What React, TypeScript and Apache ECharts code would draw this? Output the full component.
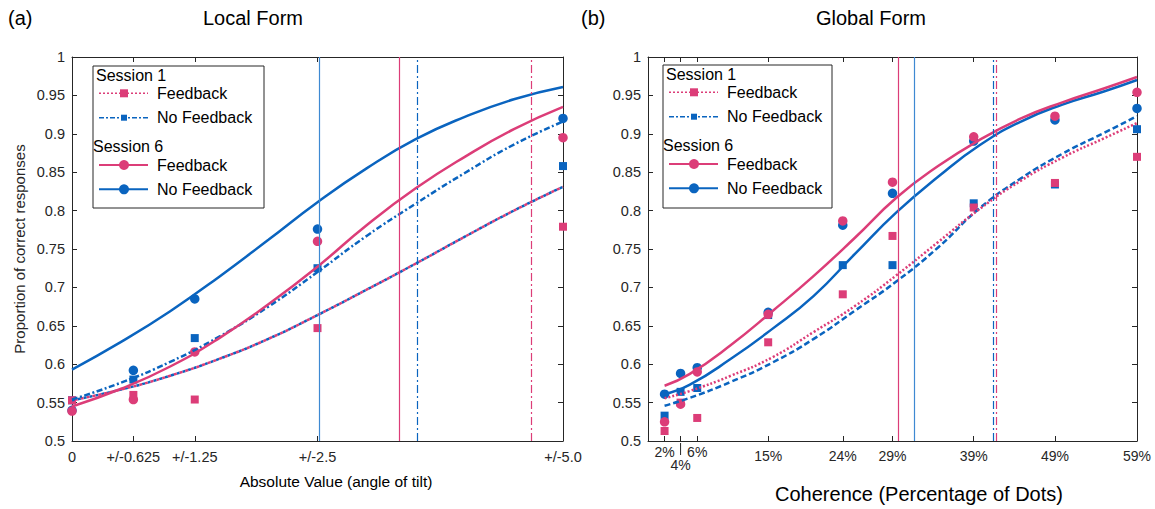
import React, { useEffect, useRef } from 'react';
import * as echarts from 'echarts';

// ---------- Data ----------
// Panel (a) Local Form
const localX = [0, 0.625, 1.25, 2.5, 5];
const localXLabels = ['0', '+/-0.625', '+/-1.25', '+/-2.5', '+/-5.0'];
const localS1F = [0.553, 0.56, 0.554, 0.647, 0.779];
const localS1NF = [0.553, 0.58, 0.634, 0.725, 0.858];
const localS6F = [0.539, 0.554, 0.616, 0.76, 0.895];
const localS6NF = [0.54, 0.592, 0.685, 0.776, 0.92];

const localFitX = [0, 0.5, 1, 1.5, 2, 2.5, 3, 3.5, 4, 4.5, 5];
const localFitS6NF = [0.593, 0.629, 0.669, 0.714, 0.762, 0.811, 0.855, 0.893, 0.922, 0.945, 0.961];
const localFitS6F = [0.545, 0.568, 0.597, 0.634, 0.678, 0.727, 0.781, 0.829, 0.87, 0.906, 0.935];
const localFitS1NF = [0.554, 0.576, 0.603, 0.636, 0.675, 0.72, 0.767, 0.809, 0.849, 0.886, 0.916];
const localFitS1F = [0.553, 0.567, 0.585, 0.607, 0.633, 0.664, 0.697, 0.731, 0.766, 0.8, 0.831];

const localThrS6NF = 2.515;
const localThrS6F = 3.33;
const localThrS1NF = 3.52;
const localThrS1F = 4.68;

// Panel (b) Global Form
const globalX = [2, 3.93, 5.94, 14.5, 23.5, 29.5, 39.3, 49.1, 59];
const globalXLabels = ['2%', '4%', '6%', '15%', '24%', '29%', '39%', '49%', '59%'];
const globalS1F = [0.513, 0.55, 0.53, 0.6285, 0.691, 0.767, 0.804, 0.836, 0.87];
const globalS1NF = [0.533, 0.564, 0.569, 0.664, 0.729, 0.729, 0.8095, 0.834, 0.906];
const globalS6F = [0.525, 0.548, 0.59, 0.665, 0.7865, 0.837, 0.896, 0.923, 0.954];
const globalS6NF = [0.561, 0.588, 0.5955, 0.6676, 0.781, 0.8225, 0.8906, 0.918, 0.933];

const globalFitX = [2, 5, 10, 15, 20, 25, 30, 35, 40, 45, 50, 55, 59];
const globalFitS6F = [0.572, 0.587, 0.625, 0.669, 0.715, 0.765, 0.817, 0.858, 0.892, 0.92, 0.941, 0.959, 0.974];
const globalFitS6NF = [0.561, 0.573, 0.607, 0.646, 0.689, 0.744, 0.798, 0.844, 0.885, 0.916, 0.938, 0.955, 0.97];
const globalFitS1F = [0.5556, 0.565, 0.585, 0.609, 0.642, 0.676, 0.716, 0.759, 0.802, 0.839, 0.869, 0.894, 0.914];
const globalFitS1NF = [0.546, 0.556, 0.577, 0.602, 0.633, 0.67, 0.708, 0.752, 0.803, 0.842, 0.874, 0.901, 0.923];

const globalThrS6F = 30.2;
const globalThrS6NF = 32.1;
const globalThrS1NF = 41.7;
const globalThrS1F = 42.0;

// ---------- Layout / styles ----------
const PINK = '#DC3D78';
const BLUE = '#0A64BF';
const LIGHT_BLUE = '#3E89D2';
const AXIS = '#262626';
const FONT = "'Liberation Sans', Arial, Helvetica, sans-serif";
const DASHDOT = [6, 2.5, 2, 2.5];
const VDASHDOT = [8, 3, 2, 3];

const GRID_A = { left: 72, top: 57, width: 491, height: 384 };
const GRID_B = { left: 648, top: 57, width: 489, height: 384 };
const X_A = [0, 5];
const X_B = [0, 59];

const zip = (xs: number[], ys: number[]) => xs.map((x, i) => [x, ys[i]]);

function xAxisDef(grid: number, pos: 'bottom' | 'top', min: number, max: number, ticks: number[], labelVals: number[] | null, labelOpts: any = {}) {
  return {
    type: 'value',
    gridIndex: grid,
    position: pos,
    min,
    max,
    axisLine: { show: true, onZero: false, lineStyle: { color: AXIS, width: 1 } },
    axisTick: { show: true, inside: true, length: 5, customValues: ticks, lineStyle: { color: AXIS, width: 1 } },
    axisLabel: labelVals
      ? {
          show: true,
          customValues: labelVals,
          hideOverlap: false,
          color: AXIS,
          fontFamily: FONT,
          ...labelOpts,
        }
      : { show: false },
    splitLine: { show: false },
  };
}

function yAxisDef(grid: number, pos: 'left' | 'right', showLabel: boolean, name?: string) {
  return {
    type: 'value',
    gridIndex: grid,
    position: pos,
    min: 0.5,
    max: 1,
    interval: 0.05,
    name: name || '',
    nameLocation: 'middle',
    nameGap: 45,
    nameTextStyle: { fontFamily: FONT, fontSize: 15, color: AXIS },
    axisLine: { show: true, onZero: false, lineStyle: { color: AXIS, width: 1 } },
    axisTick: { show: true, inside: true, length: 5, lineStyle: { color: AXIS, width: 1 } },
    axisLabel: showLabel ? { show: true, color: AXIS, fontFamily: FONT, fontSize: 14.5, margin: 7 } : { show: false },
    splitLine: { show: false },
  };
}

function fitLine(xi: number, yi: number, xs: number[], ys: number[], color: string, type: any, dashOffset = 0) {
  return {
    type: 'line',
    xAxisIndex: xi,
    yAxisIndex: yi,
    data: zip(xs, ys),
    smooth: 0.5,
    showSymbol: false,
    silent: true,
    z: 3,
    lineStyle: { color, width: 2.5, type, dashOffset, cap: 'butt' },
  };
}

function dots(xi: number, yi: number, xs: number[], ys: number[], color: string, symbol: string, size: number) {
  return {
    type: 'scatter',
    xAxisIndex: xi,
    yAxisIndex: yi,
    data: zip(xs, ys),
    symbol,
    symbolSize: size,
    z: 2,
    itemStyle: { color, opacity: 1 },
  };
}

function vLines(xi: number, yi: number, items: { x: number; color: string; type: any }[]) {
  return {
    type: 'line',
    xAxisIndex: xi,
    yAxisIndex: yi,
    data: [],
    z: 4,
    markLine: {
      silent: true,
      symbol: 'none',
      label: { show: false },
      animation: false,
      data: items.map((it) => ({ xAxis: it.x, lineStyle: { color: it.color, width: 1.2, type: it.type } })),
    },
  };
}

function legendGroup(bx: number, by: number, w: number, h: number) {
  const txt = (text: string, x: number, y: number) => ({
    type: 'text',
    x: bx + x,
    y: by + y,
    style: { text, fill: '#000', font: `16px ${FONT}`, verticalAlign: 'middle', textAlign: 'left' },
  });
  const sample = (y: number, color: string, dash: any, marker: 'rect' | 'circle', lw: number) => {
    const cy = by + y;
    const items: any[] = [
      {
        type: 'line',
        shape: { x1: bx + 6, y1: cy, x2: bx + 55, y2: cy },
        style: { stroke: color, lineWidth: lw, lineDash: dash },
      },
    ];
    if (marker === 'rect') {
      const s = color === PINK ? 8 : 6;
      items.push({ type: 'rect', shape: { x: bx + 31 - s / 2, y: cy - s / 2, width: s, height: s }, style: { fill: color } });
    } else {
      items.push({ type: 'circle', shape: { cx: bx + 31, cy, r: 5 }, style: { fill: color } });
    }
    return items;
  };
  return {
    type: 'group',
    z: 100,
    children: [
      { type: 'rect', shape: { x: bx, y: by, width: w, height: h }, style: { fill: '#fff', stroke: AXIS, lineWidth: 1 } },
      txt('Session 1', 3, 9.5),
      ...sample(27.3, PINK, [2, 2], 'rect', 1.5),
      txt('Feedback', 64, 27.3),
      ...sample(51.7, BLUE, [5, 2, 2, 2], 'rect', 1.5),
      txt('No Feedback', 64, 51.7),
      txt('Session 6', 0, 80),
      ...sample(99, PINK, null, 'circle', 2),
      txt('Feedback', 64, 99),
      ...sample(123.3, BLUE, null, 'circle', 2),
      txt('No Feedback', 64, 123.3),
    ],
  };
}

function text(t: string, x: number, y: number, size: number, align = 'center', color = '#000') {
  return {
    type: 'text',
    x,
    y,
    style: { text: t, fill: color, font: `${size}px ${FONT}`, textAlign: align, verticalAlign: 'middle' },
  };
}

const localLabelOf = (v: number) => {
  const i = localX.findIndex((x) => Math.abs(x - v) < 1e-9);
  return i >= 0 ? localXLabels[i] : '';
};
const globalLabelOf = (v: number) => {
  const i = globalX.findIndex((x) => Math.abs(x - v) < 1e-9);
  if (i < 0) return '';
  const l = globalXLabels[i];
  if (l === '2%' || l === '6%') return `{a|${l}}`;
  return `{b|${l}}`;
};

// The "4%" label sits on a second row, connected to its tick by a short bar.
const idx4 = globalXLabels.indexOf('4%');
const px4 = GRID_B.left + ((globalX[idx4] - X_B[0]) / (X_B[1] - X_B[0])) * GRID_B.width;
const axisBottomB = GRID_B.top + GRID_B.height;
const globalLabelVals = globalX.filter((_, i) => i !== idx4);

const option: any = {
  animation: false,
  backgroundColor: '#fff',
  grid: [GRID_A, GRID_B],
  xAxis: [
    xAxisDef(0, 'bottom', X_A[0], X_A[1], localX, localX, { fontSize: 14.5, margin: 8, formatter: localLabelOf }),
    xAxisDef(0, 'top', X_A[0], X_A[1], localX, null),
    xAxisDef(1, 'bottom', X_B[0], X_B[1], globalX, globalLabelVals, {
      fontSize: 14,
      margin: 4,
      formatter: globalLabelOf,
      rich: {
        a: { fontSize: 14, lineHeight: 14, fontFamily: FONT, color: AXIS },
        b: { fontSize: 14, lineHeight: 14, fontFamily: FONT, color: AXIS, padding: [7, 0, 0, 0] },
      },
    }),
    xAxisDef(1, 'top', X_B[0], X_B[1], globalX, null),
  ],
  yAxis: [
    yAxisDef(0, 'left', true, 'Proportion of correct responses'),
    yAxisDef(0, 'right', false),
    yAxisDef(1, 'left', true),
    yAxisDef(1, 'right', false),
  ],
  series: [
    // Panel (a)
    dots(0, 0, localX, localS1NF, BLUE, 'rect', 8),
    dots(0, 0, localX, localS1F, PINK, 'rect', 8),
    dots(0, 0, localX, localS6NF, BLUE, 'circle', 9.5),
    dots(0, 0, localX, localS6F, PINK, 'circle', 9.5),
    fitLine(0, 0, localFitX, localFitS1F, BLUE, [3, 3]),
    fitLine(0, 0, localFitX, localFitS1F, PINK, [3, 3], 3),
    fitLine(0, 0, localFitX, localFitS1NF, BLUE, DASHDOT),
    fitLine(0, 0, localFitX, localFitS6NF, BLUE, 'solid'),
    fitLine(0, 0, localFitX, localFitS6F, PINK, 'solid'),
    vLines(0, 0, [
      { x: localThrS6NF, color: LIGHT_BLUE, type: 'solid' },
      { x: localThrS6F, color: PINK, type: 'solid' },
      { x: localThrS1NF, color: BLUE, type: VDASHDOT },
      { x: localThrS1F, color: PINK, type: VDASHDOT },
    ]),
    // Panel (b)
    dots(2, 2, globalX, globalS1NF, BLUE, 'rect', 8),
    dots(2, 2, globalX, globalS1F, PINK, 'rect', 8),
    dots(2, 2, globalX, globalS6NF, BLUE, 'circle', 9.5),
    dots(2, 2, globalX, globalS6F, PINK, 'circle', 9.5),
    fitLine(2, 2, globalFitX, globalFitS1NF, BLUE, [6, 3]),
    fitLine(2, 2, globalFitX, globalFitS1F, PINK, [2, 2]),
    fitLine(2, 2, globalFitX, globalFitS6NF, BLUE, 'solid'),
    fitLine(2, 2, globalFitX, globalFitS6F, PINK, 'solid'),
    vLines(2, 2, [
      { x: globalThrS6F, color: PINK, type: 'solid' },
      { x: globalThrS6NF, color: LIGHT_BLUE, type: 'solid' },
      { x: globalThrS1NF, color: BLUE, type: VDASHDOT },
      { x: globalThrS1F, color: PINK, type: VDASHDOT },
    ]),
  ],
  graphic: [
    text('(a)', 8, 18, 20, 'left'),
    text('(b)', 581, 18, 20, 'left'),
    text('Local Form', 253, 18, 20),
    text('Global Form', 871, 18, 20),
    text('Absolute Value (angle of tilt)', 336, 481, 15.5),
    text('Coherence (Percentage of Dots)', 919, 494, 20),
    {
      type: 'line',
      shape: { x1: px4, y1: axisBottomB + 2, x2: px4, y2: axisBottomB + 14 },
      style: { stroke: AXIS, lineWidth: 1 },
    },
    text(globalXLabels[idx4], px4, axisBottomB + 24, 14, 'center', AXIS),
    legendGroup(93, 66, 171, 142),
    legendGroup(663, 65, 169, 143),
  ],
};

export default function App() {
  const ref = useRef<HTMLDivElement>(null);
  useEffect(() => {
    document.body.style.margin = '0';
    const chart = echarts.init(ref.current!, null, { renderer: 'svg' });
    chart.setOption(option);
    return () => chart.dispose();
  }, []);
  return <div ref={ref} style={{ width: 1155, height: 509, background: '#fff' }} />;
}
